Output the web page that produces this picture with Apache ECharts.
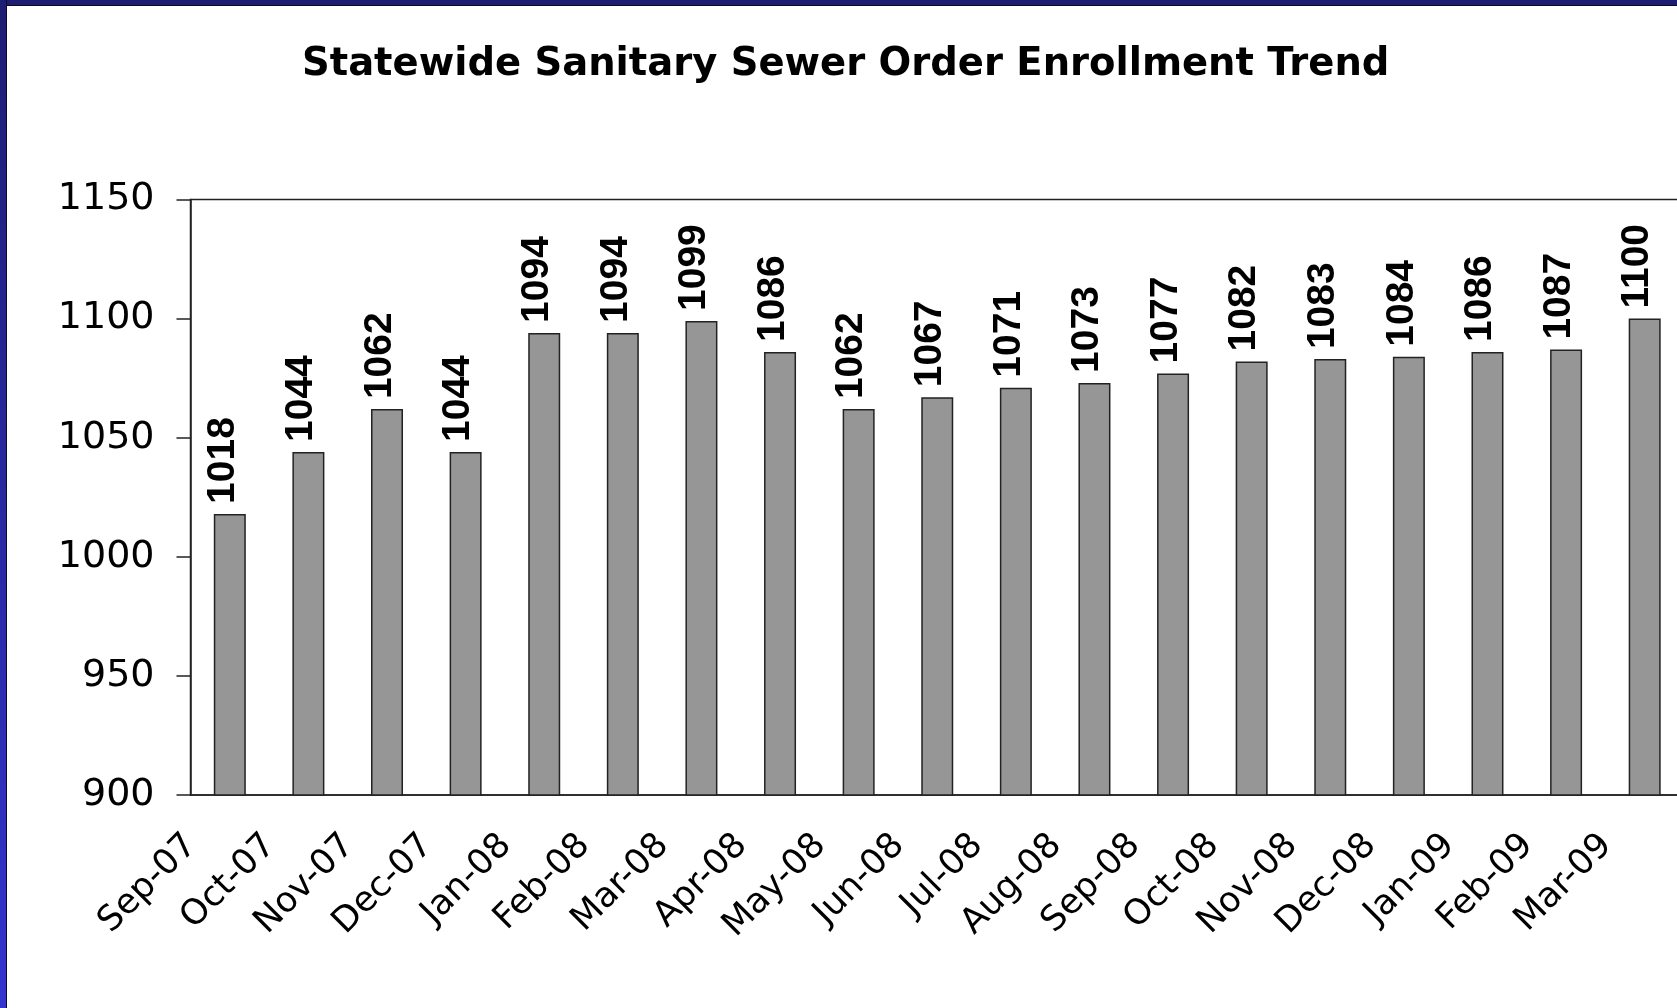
<!DOCTYPE html>
<html>
<head>
<meta charset="utf-8">
<script src="https://cdn.jsdelivr.net/npm/echarts@6/dist/echarts.min.js"></script>
<style>
  html, body { margin: 0; padding: 0; background: #fff; }
  #main { position: absolute; left: 0; top: 0; width: 1677px; height: 1008px; }
  #frameTop { position: absolute; left: 0; top: 0; width: 1677px; height: 5px; background: #1d1d72; border-bottom: 1px solid #0a0a30; z-index: 2; }
  #frameLeft { position: absolute; left: 0; top: 0; width: 6px; height: 1008px; background: linear-gradient(to bottom, #1d1d72, #3434cf); border-right: 1px solid #0a0a30; z-index: 2; }
</style>
</head>
<body>
<div id="main"></div>
<div id="frameTop"></div>
<div id="frameLeft"></div>
<script>
// months on the x axis
var months = ['Sep-07', 'Oct-07', 'Nov-07', 'Dec-07', 'Jan-08', 'Feb-08', 'Mar-08', 'Apr-08', 'May-08', 'Jun-08',
  'Jul-08', 'Aug-08', 'Sep-08', 'Oct-08', 'Nov-08', 'Dec-08', 'Jan-09', 'Feb-09', 'Mar-09'];
// enrollment counts
var enrollment = [1018, 1044, 1062, 1044, 1094, 1094, 1099, 1086, 1062, 1067,
  1071, 1073, 1077, 1082, 1083, 1084, 1086, 1087, 1100];
var yTicks = [900, 950, 1000, 1050, 1100, 1150];

var myChart = echarts.init(document.getElementById('main'));
myChart.setOption({
  animation: false,
  backgroundColor: '#fff',
  title: {
    text: 'Statewide Sanitary Sewer Order Enrollment Trend',
    left: 297,
    top: 40,
    textStyle: {
      color: '#000',
      fontFamily: 'DejaVu Sans',
      fontWeight: 'bold',
      fontSize: 38.5
    }
  },
  grid: {
    left: 190.5,
    top: 199.5,
    right: -7,
    bottom: 213,
    show: true,
    borderColor: '#222',
    borderWidth: 1.5,
    backgroundColor: 'transparent',
    outerBoundsMode: 'none'
  },
  xAxis: {
    type: 'category',
    data: months,
    axisLine: { lineStyle: { color: '#222', width: 1.5 } },
    axisTick: { show: false },
    axisLabel: {
      rotate: 45,
      interval: 0,
      margin: 7,
      padding: [0, 54, 0, 0],
      color: '#000',
      fontFamily: 'DejaVu Sans',
      fontSize: 35
    }
  },
  yAxis: {
    type: 'value',
    min: yTicks[0],
    max: yTicks[yTicks.length - 1],
    interval: 50,
    splitLine: { show: false },
    axisLine: { show: true, lineStyle: { color: '#222', width: 1.5 } },
    axisTick: { show: true, inside: false, length: 14, lineStyle: { color: '#222', width: 1.5 } },
    axisLabel: {
      margin: 36,
      color: '#000',
      fontFamily: 'DejaVu Sans',
      fontSize: 38,
      formatter: function (v) { return String(v); }
    }
  },
  series: [{
    type: 'bar',
    data: enrollment,
    barWidth: 32,
    itemStyle: {
      color: '#969696',
      borderColor: '#222',
      borderWidth: 1.5
    },
    label: {
      show: true,
      position: 'top',
      rotate: 90,
      align: 'left',
      verticalAlign: 'middle',
      distance: 10,
      offset: [0, -7],
      color: '#000',
      fontFamily: 'Liberation Sans',
      fontWeight: 'bold',
      fontSize: 39
    }
  }]
});
</script>
</body>
</html>
